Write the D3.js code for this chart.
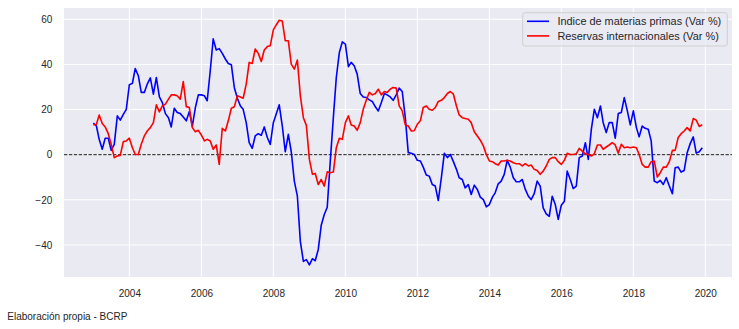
<!DOCTYPE html>
<html><head><meta charset="utf-8">
<script src="https://cdn.jsdelivr.net/npm/d3@7"></script>
<style>body{margin:0;background:#fff}svg{display:block}</style>
</head><body>
<script>
// ---- data (monthly, Jan 2003 - Dec 2019) ----
const startYear = 2003;
const indiceMateriasPrimas = [
 14,12.7,6.8,2.4,7.3,7.3,1.9,4.6,17.2,15.3,17.9,20.1,
 31,31.6,38.2,35,27.6,27.6,31.3,34,26.8,34.2,25.6,23.1,
 18.2,16.4,12.3,20.6,18.7,18.2,16.7,15,19.1,12.7,20.9,26.5,
 26.5,26.1,23.9,37.2,51.3,46.4,47,44.9,42.4,40.4,39.9,29.8,
 25,21.6,20.1,14.2,5.3,2.8,8.3,9.3,8.6,12.3,7.6,4.6,
 14.2,18.2,22.1,12.7,1.3,9,1.3,-11.7,-18.4,-38.4,-47.3,-46.5,
 -48.8,-46.1,-47,-42,-31.3,-26.5,-23.3,-2.8,16.4,34.2,45.3,50,
 49,39,40.9,39.4,35.7,27.1,25.6,25.3,24.3,23.6,21.2,19.4,
 23.1,27.1,26.5,25.6,24.1,26.5,29.5,28,16.4,0.9,0.6,0.1,
 -2.5,-2.8,-5.5,-9,-9.5,-13.2,-13.9,-20.3,-10.2,0.6,-1.3,0.1,
 -3.1,-6.5,-10.2,-11,-14.7,-13.2,-17.6,-13.5,-15.4,-18.8,-19.9,-23.1,
 -22.1,-18.8,-16.9,-12.9,-11.7,-8.7,-2.5,-5.5,-10.2,-12,-12,-11,
 -15.4,-18.4,-19.9,-17.3,-11.7,-13.9,-23.6,-26.2,-27.3,-18.4,-22.1,-28.7,
 -22.4,-20.6,-7.3,-11,-15,-13.9,-1.3,-0.6,5.3,-2.1,11.3,20.1,
 16.4,21.6,14.2,9.8,14.2,14.2,7.3,18.2,18.7,25.3,19.4,13.2,
 19.4,12,7.9,12.7,11.7,11.3,6.1,-11.7,-12.4,-11.4,-13.2,-10.2,
 -13.9,-17.3,-5.8,-5.5,-7.7,-7,0.9,4.9,7.9,0.7,1.3,3.1
];
const reservasInternacionales = [
 13.2,13.5,17.6,13.8,12.3,9.3,4.6,-1.3,-0.6,-0.3,5.8,6.1,
 7.3,3.1,0.1,0.1,4.6,8.3,10.5,12,14.2,22.1,19,21.6,
 22.4,24.6,26.5,26.5,26.1,24.6,32.4,21.3,20.9,12,10.2,10.8,
 8.7,6.1,6.8,6.1,2.4,4.3,-4.3,11.7,10.5,15,20.6,21.2,
 26.1,25.6,25,31.3,40.9,40.4,46.8,44.9,41.3,46.4,47.9,48.3,
 55.3,57.6,59.6,59.2,50.5,50.5,40.1,37.9,41.9,26.1,16.4,13,
 -2.1,-8.7,-8.3,-13.2,-11,-13.9,-7.6,-8,-7.7,3.1,7.3,6.8,
 14.2,17.2,13.2,12.7,10.8,14.2,20.1,24.1,27.6,26.5,27.1,29,
 26.5,28,27.6,29,29.8,29.5,21.6,19.4,13.2,12.7,10.5,10.6,
 13.5,15,20.9,21.6,20.1,19.7,20.9,23.6,24.1,25.3,27.1,28,
 26.8,21.6,17.6,16.4,16,15.7,14.2,10.2,8.3,6.4,3.9,0.1,
 -2.8,-3.1,-4,-4.6,-2.8,-2.8,-2.5,-2.8,-3.6,-4,-4,-5,
 -4,-5,-4.6,-6.5,-7,-8.7,-7.3,-5,-2.1,-1.3,-1.3,-3.1,
 -4.3,-2.5,0.6,0.1,0.1,0.4,2.8,1.6,0.4,0.1,-0.6,0.4,
 4.3,4.3,2.4,3.4,4.3,5.3,4.3,0.7,4.6,3.1,3.4,3.1,
 3.4,3.1,0.1,-4.3,-5.5,-5.5,-3.1,-2.8,-9.9,-8,-5.5,-5.5,
 -3.1,1.9,1.9,7.6,9.3,10.5,12,10.5,16,15.3,12.5,13.3
];
const xTickYears = [2004,2006,2008,2010,2012,2014,2016,2018,2020];
const yTickValues = [-40,-20,0,20,40,60];
const seriesLabels = ["Indice de materias primas (Var %)","Reservas internacionales (Var %)"];
const seriesColors = ["#0000ff","#ff0000"];
const footerText = "Elaboración propia - BCRP";

// ---- layout ----
const W = 739, H = 329;
const P = {left:64, right:732, top:8, bottom:277};
const FONT = "'Liberation Sans', Arial, Helvetica, sans-serif";
const TXT = "#262626";

const svg = d3.select("body").append("svg").attr("width",W).attr("height",H)
  .style("font-family",FONT);

const x = d3.scaleTime()
  .domain([new Date(2002,2,9), new Date(2020,8,28)])
  .range([P.left,P.right]);
const y = d3.scaleLinear().domain([-54.2,65.0]).range([P.bottom,P.top]);

svg.append("rect").attr("x",P.left).attr("y",P.top)
  .attr("width",P.right-P.left).attr("height",P.bottom-P.top).attr("fill","#eaeaf2");

// grid
const g = svg.append("g");
g.selectAll("line.gx").data(xTickYears).join("line")
  .attr("x1",d=>x(new Date(d,0,1))).attr("x2",d=>x(new Date(d,0,1)))
  .attr("y1",P.top).attr("y2",P.bottom).attr("stroke","#fff").attr("stroke-width",1);
g.selectAll("line.gy").data(yTickValues).join("line")
  .attr("y1",d=>y(d)).attr("y2",d=>y(d))
  .attr("x1",P.left).attr("x2",P.right).attr("stroke","#fff").attr("stroke-width",1);

// axes
const xAxis = d3.axisBottom(x).tickValues(xTickYears.map(d=>new Date(d,0,1)))
  .tickFormat(d3.timeFormat("%Y")).tickSize(0).tickPadding(13);
const ax = svg.append("g").attr("transform",`translate(0,${P.bottom})`).call(xAxis);
const yAxis = d3.axisLeft(y).tickValues(yTickValues)
  .tickFormat(d=>d<0?"\u2212"+Math.abs(d):String(d)).tickSize(0).tickPadding(11.7);
const ay = svg.append("g").attr("transform",`translate(${P.left},0)`).call(yAxis);
[ax,ay].forEach(a=>{
  a.select(".domain").remove();
  a.selectAll("text").attr("fill",TXT).style("font-size","10px").style("font-family",FONT);
});

// zero line
svg.append("line").attr("x1",P.left).attr("x2",P.right)
  .attr("y1",y(0)).attr("y2",y(0)).attr("stroke","#000").attr("stroke-width",0.9)
  .attr("stroke-dasharray","3.4,1.5");

// series
const line = d3.line().x((d,i)=>x(new Date(startYear,i,1))).y(d=>y(d));
[indiceMateriasPrimas,reservasInternacionales].forEach((s,k)=>{
  svg.append("path").datum(s).attr("d",line).attr("fill","none")
    .attr("stroke",seriesColors[k]).attr("stroke-width",1.6)
    .attr("stroke-linejoin","round");
});

// legend
const lg = svg.append("g");
lg.append("rect").attr("x",522.7).attr("y",12.7).attr("width",204.6).attr("height",33.3)
  .attr("rx",2.5).attr("fill","#eaeaf2").attr("fill-opacity",0.8)
  .attr("stroke","#cccccc").attr("stroke-width",0.9);
const rowY = [21.3,35.9];
seriesLabels.forEach((lab,k)=>{
  lg.append("line").attr("x1",527).attr("x2",549).attr("y1",rowY[k]).attr("y2",rowY[k])
    .attr("stroke",seriesColors[k]).attr("stroke-width",1.6);
  lg.append("text").attr("x",557.4).attr("y",rowY[k]).attr("dy","0.35em")
    .attr("fill",TXT).style("font-size","10.9px").text(lab);
});

// footer
svg.append("text").attr("x",7.3).attr("y",320.3).attr("fill",TXT)
  .style("font-size","10px").text(footerText);
</script>
</body></html>
